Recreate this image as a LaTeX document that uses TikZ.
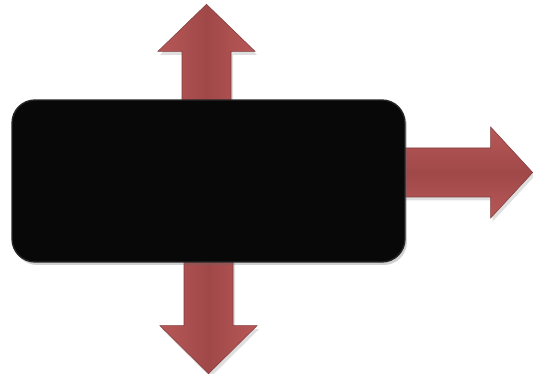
\documentclass[tikz,border=0pt]{standalone}
\usepackage{xcolor}
\usetikzlibrary{positioning, calc, shadows, backgrounds}
\definecolor{arrowred}{HTML}{A04848}
\definecolor{arrowlite}{HTML}{B85858}
\definecolor{panelfill}{HTML}{080808}
\definecolor{panelrim}{HTML}{262626}

\begin{document}
\begin{tikzpicture}[x=0.02cm, y=-0.02cm,
    panel/.style={fill=panelfill, draw=panelrim, line width=0.8pt, rounded corners=0.46cm,
      minimum width=7.86cm, minimum height=3.24cm, inner sep=0pt,
      drop shadow={opacity=0.3, fill=black!60, shadow xshift=0.4mm, shadow yshift=-0.6mm}},
    vshaft/.style={left color=arrowlite, right color=arrowlite, middle color=arrowred,
      draw=arrowred!80!black, line width=0.3pt,
      drop shadow={opacity=0.25, shadow xshift=0.4mm, shadow yshift=-0.7mm}},
    hshaft/.style={top color=arrowlite, bottom color=arrowlite, middle color=arrowred,
      draw=arrowred!80!black, line width=0.3pt,
      drop shadow={opacity=0.25, shadow xshift=0.4mm, shadow yshift=-0.7mm}}]

  \useasboundingbox (0,0) rectangle (533,374);

  \node[panel] (box) at (208.5,181) {};

  \coordinate (upbase) at ($(box.north)+(-2,8)$);
  \coordinate (rightbase) at ($(box.east)+(-8,-8.5)$);
  \coordinate (downbase) at ($(box.south)+(0,-8)$);

  \begin{scope}[on background layer]
    % up
    \path[vshaft] ($(upbase)+(-24.5,0)$) -- ++(0,-56) -- ++(-24,0) -- ++(48.5,-47)
      -- ++(48.5,47) -- ++(-24,0) -- ++(0,56) -- cycle;
    % right
    \path[hshaft] ($(rightbase)+(0,-24.5)$) -- ++(93,0) -- ++(0,-21) -- ++(42,45.5)
      -- ++(-42,45.5) -- ++(0,-21) -- ++(-93,0) -- cycle;
    % down
    \path[vshaft] ($(downbase)+(-24.5,0)$) -- ++(0,71) -- ++(-24,0) -- ++(48.5,48)
      -- ++(48.5,-48) -- ++(-24,0) -- ++(0,-71) -- cycle;
  \end{scope}
\end{tikzpicture}
\end{document}
